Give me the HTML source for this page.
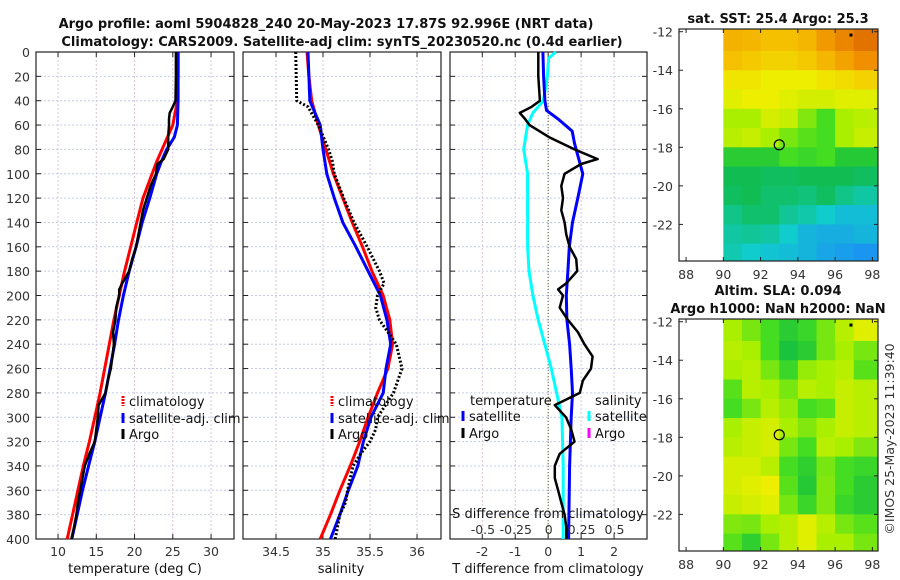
<!DOCTYPE html>
<html><head><meta charset="utf-8"><style>
html,body{margin:0;padding:0;background:#fff;}
svg{display:block;font-family:"DejaVu Sans","Liberation Sans",sans-serif;}
.tk{font-size:12.5px;fill:#333;}
.lg{font-size:13px;fill:#111;}
.ti{font-size:13px;font-weight:bold;fill:#111;}
</style></head><body>
<svg id="fig" width="900" height="580" viewBox="0 0 900 580" xmlns="http://www.w3.org/2000/svg">
<text class="ti" x="326" y="28" text-anchor="middle">Argo profile: aoml 5904828_240 20-May-2023 17.87S 92.996E (NRT data)</text>
<text class="ti" x="342" y="46" text-anchor="middle">Climatology: CARS2009. Satellite-adj clim: synTS_20230520.nc (0.4d earlier)</text>
<g id="p1"></g>
<g id="p2"></g>
<g id="p3"></g>
<g id="m1"></g>
<g id="m2"></g>
<text class="tk" transform="translate(894,439) rotate(-90)" text-anchor="middle">©IMOS 25-May-2023 11:39:40</text>
</svg>
<script>
// ---- data ----
const depthTicks = [0,20,40,60,80,100,120,140,160,180,200,220,240,260,280,300,320,340,360,380,400];
const tTicks = [10,15,20,25,30];
const sTicks = [34.5,35,35.5,36];
const sTickLabels = ["34.5","35","35.5","36"];
const dTTicks = [-2,-1,0,1,2];
const dSTicks = [-0.5,-0.25,0,0.25,0.5];
const dSTickLabels = ["-0.5","-0.25","0","0.25","0.5"];

const climZ = [0,20,40,60,70,80,90,100,120,140,160,180,200,220,240,260,280,300,320,340,360,380,400];
const climT = [25.7,25.7,25.6,25.0,24.3,23.6,22.9,22.3,21.1,20.3,19.5,18.7,18.0,17.3,16.7,16.1,15.5,14.8,14.1,13.3,12.6,11.9,11.2];
const satT  = [25.7,25.7,25.7,25.6,25.2,24.2,23.5,22.9,22.0,21.0,20.2,19.3,18.55,17.9,17.4,16.8,16.2,15.5,14.8,14.0,13.2,12.5,11.8];

const argoZ = [0,20,40,45,50,55,60,70,80,88,92,100,110,120,130,140,150,160,170,180,190,195,200,210,220,230,240,250,260,270,280,290,300,310,320,330,340,350,360,370,380,390,400];
const argoT = [25.4,25.4,25.35,25.0,24.6,24.5,24.5,24.4,24.4,23.8,23.0,22.8,22.1,21.6,21.1,20.8,20.5,20.2,19.7,19.3,18.4,18.0,18.0,17.6,17.5,17.2,17.3,17.1,16.9,16.5,16.2,15.3,15.2,15.0,14.8,14.1,13.5,13.2,12.9,12.6,12.4,12.1,11.75];
const argoDT = [-0.3,-0.3,-0.25,-0.5,-0.86,-0.7,-0.57,0.03,0.8,1.5,1.0,0.5,0.4,0.45,0.4,0.5,0.55,0.65,0.85,0.88,0.55,0.3,0.45,0.35,0.6,0.9,1.1,1.35,1.3,1.05,0.96,0.2,0.54,0.7,0.8,0.35,0.2,0.2,0.3,0.4,0.5,0.55,0.55];

const salZ = [0,20,40,60,80,100,120,140,160,180,200,220,240,260,280,300,320,340,360,380,400];
const climS = [34.83,34.85,34.88,34.95,35.03,35.11,35.21,35.31,35.42,35.52,35.64,35.71,35.74,35.69,35.58,35.48,35.39,35.29,35.18,35.08,34.97];
const satS  = [34.84,34.85,34.86,34.97,35.0,35.04,35.12,35.21,35.35,35.48,35.61,35.68,35.72,35.67,35.64,35.51,35.43,35.37,35.27,35.18,35.08];
const argoSZ = [0,40,45,60,80,90,100,120,140,160,180,190,200,210,220,240,260,280,300,310,320,330,340,360,370,380,400];
const argoS  = [34.71,34.72,34.84,34.95,35.06,35.1,35.12,35.22,35.33,35.47,35.6,35.65,35.58,35.56,35.6,35.78,35.84,35.75,35.58,35.56,35.5,35.4,35.32,35.26,35.24,35.18,35.13];

const satDTZ = [0,20,40,48,55,65,75,100,120,140,160,180,200,220,240,260,280,300,340,400];
const satDT  = [-0.16,-0.14,-0.1,-0.05,0.3,0.73,0.8,1.05,0.9,0.74,0.64,0.6,0.55,0.57,0.65,0.7,0.74,0.7,0.65,0.62];
const satDSZ = [0,5,20,40,50,60,80,100,140,160,180,200,220,240,260,280,300,340,400];
const satDS  = [0.055,0.0,-0.01,-0.04,-0.12,-0.16,-0.19,-0.16,-0.16,-0.16,-0.15,-0.12,-0.08,-0.03,0.02,0.06,0.1,0.11,0.11];

const mapLonTicks = [88,90,92,94,96,98];
const mapLatTicks = [-12,-14,-16,-18,-20,-22];
const sstGrid = [
[0.83,0.82,0.80,0.80,0.82,0.88,0.92,0.96],
[0.80,0.78,0.76,0.76,0.78,0.82,0.86,0.90],
[0.72,0.72,0.70,0.70,0.70,0.72,0.74,0.76],
[0.68,0.70,0.70,0.68,0.66,0.66,0.68,0.68],
[0.60,0.60,0.66,0.64,0.56,0.50,0.60,0.62],
[0.62,0.64,0.60,0.55,0.52,0.50,0.60,0.64],
[0.45,0.45,0.45,0.50,0.48,0.50,0.44,0.44],
[0.38,0.38,0.36,0.36,0.38,0.38,0.38,0.36],
[0.36,0.38,0.34,0.34,0.32,0.36,0.30,0.26],
[0.30,0.34,0.34,0.28,0.25,0.20,0.16,0.16],
[0.26,0.28,0.26,0.20,0.14,0.12,0.12,0.14],
[0.24,0.20,0.18,0.16,0.14,0.10,0.08,0.06]];
const slaGrid = [
[0.60,0.55,0.50,0.45,0.48,0.55,0.62,0.68],
[0.62,0.60,0.50,0.42,0.45,0.55,0.60,0.55],
[0.60,0.62,0.55,0.48,0.58,0.60,0.62,0.52],
[0.52,0.62,0.60,0.55,0.62,0.60,0.64,0.62],
[0.50,0.55,0.62,0.58,0.50,0.52,0.64,0.62],
[0.60,0.64,0.66,0.60,0.56,0.60,0.64,0.62],
[0.62,0.64,0.66,0.55,0.50,0.62,0.60,0.56],
[0.66,0.66,0.62,0.50,0.46,0.55,0.50,0.48],
[0.66,0.68,0.70,0.52,0.44,0.56,0.50,0.45],
[0.64,0.66,0.68,0.55,0.48,0.56,0.48,0.45],
[0.56,0.55,0.60,0.62,0.68,0.62,0.55,0.52],
[0.52,0.46,0.55,0.62,0.68,0.60,0.60,0.55]];
const argoLon = 93.0, argoLat = -17.87;
const floatLon = 96.85, floatLat = -12.2;

// ---- helpers ----
const NS = "http://www.w3.org/2000/svg";
function mk(parent, tag, attrs){const e=document.createElementNS(NS,tag);for(const k in attrs)e.setAttribute(k,attrs[k]);parent.appendChild(e);return e;}
const TOP=52, BOT=539;
const yD = d => TOP + (BOT-TOP)*d/400;

function panel(g, x0, x1, dmin, dmax, xticks, xlabels, name){
  const sx = v => x0 + (x1-x0)*(v-dmin)/(dmax-dmin);
  const grid = mk(g,'g',{});
  
  
  xticks.forEach(v=>mk(grid,'line',{x1:sx(v),x2:sx(v),y1:TOP,y2:BOT,stroke:'#d8c4d8','stroke-width':1,'stroke-dasharray':'2,2'}));
  depthTicks.forEach(d=>{ if(d>0&&d<400) mk(grid,'line',{x1:x0,x2:x1,y1:yD(d),y2:yD(d),stroke:'#c4cbef','stroke-width':1,'stroke-dasharray':'2,2'});});
  depthTicks.forEach(d=>{mk(grid,'line',{x1:x0,x2:x0+5,y1:yD(d),y2:yD(d),stroke:'#222'});mk(grid,'line',{x1:x1-5,x2:x1,y1:yD(d),y2:yD(d),stroke:'#222'});});
  xticks.forEach(v=>{mk(grid,'line',{x1:sx(v),x2:sx(v),y1:BOT,y2:BOT-5,stroke:'#222'});mk(grid,'line',{x1:sx(v),x2:sx(v),y1:TOP,y2:TOP+5,stroke:'#222'});});
  if(xlabels){ xticks.forEach((v,i)=>{const t=mk(g,'text',{x:sx(v),y:556,class:'tk','text-anchor':'middle'});t.textContent=xlabels[i];
    
    });}
  const fr = mk(g,'rect',{x:x0,y:TOP,width:x1-x0,height:BOT-TOP,fill:'none',stroke:'#222','stroke-width':1.2});
  
  
  return sx;
}
function line(g, sx, xs, zs, color, w, dash, name){
  const pts = xs.map((v,i)=>sx(v).toFixed(1)+','+yD(zs[i]).toFixed(1)).join(' ');
  const p = mk(g,'polyline',{points:pts,fill:'none',stroke:color,'stroke-width':w,'stroke-linejoin':'round'});
  if(dash) p.setAttribute('stroke-dasharray',dash);
  
  
}
function legend(g, x, y, color, label, name, dash){
  const m = mk(g,'line',{x1:x,x2:x,y1:y-10,y2:y,stroke:color,'stroke-width':3});
  if(dash) m.setAttribute('stroke-dasharray',dash);
  const t = mk(g,'text',{x:x+6,y:y,class:'lg'}); t.textContent=label;
  
  
}

// ---- panel 1 ----
const g1=document.getElementById('p1');
const sx1 = panel(g1,36,234,7.12,33.0,tTicks,tTicks.map(String),'temperature');
depthTicks.forEach(d=>{const t=mk(g1,'text',{x:30,y:yD(d)+5,class:'tk','text-anchor':'end'});t.textContent=d;
  
  });
line(g1,sx1,climT,climZ,'#ff0000',3,null,'climatology-temperature-line');
line(g1,sx1,satT,climZ,'#0000ff',3,null,'satellite-temperature-line');
line(g1,sx1,argoT,argoZ,'#000',2.5,null,'argo-temperature-line');
legend(g1,123,406,'#ff0000','climatology','legend-climatology',"2,1");
legend(g1,123,423,'#0000ff','satellite-adj. clim','legend-satellite-adj');
legend(g1,123,439,'#000','Argo','legend-argo');
const xl1=mk(g1,'text',{x:135,y:573,class:'lg','text-anchor':'middle'});xl1.textContent='temperature (deg C)';



// ---- panel 2 ----
const g2=document.getElementById('p2');
const sx2 = panel(g2,243,441,34.149,36.255,sTicks,sTickLabels,'salinity');
line(g2,sx2,climS,salZ,'#ff0000',3,null,'climatology-salinity-line');
line(g2,sx2,satS,salZ,'#0000ff',3,null,'satellite-salinity-line');
line(g2,sx2,argoS,argoSZ,'#000',3,'2,2','argo-salinity-line');
legend(g2,332,406,'#ff0000','climatology','legend-climatology-sal',"2,1");
legend(g2,332,423,'#0000ff','satellite-adj. clim','legend-satellite-adj-sal');
legend(g2,332,439,'#000','Argo','legend-argo-sal');
const xl2=mk(g2,'text',{x:341,y:573,class:'lg','text-anchor':'middle'});xl2.textContent='salinity';



// ---- panel 3 ----
const g3=document.getElementById('p3');
const sx3 = panel(g3,450,647,-2.98,3.0,dTTicks,dTTicks.map(String),'difference');
const sxS = v => 548.7 + v*131.6;
mk(g3,'line',{x1:sx3(0),x2:sx3(0),y1:TOP,y2:BOT,stroke:'#556b2f','stroke-width':1,'stroke-dasharray':'1,2'});
line(g3,sxS,satDS,satDSZ,'#00ffff',3,null,'satellite-salinity-diff-line');
line(g3,sx3,satDT,satDTZ,'#0000ff',3,null,'satellite-temperature-diff-line');
line(g3,sx3,argoDT,argoZ,'#000',2.5,null,'argo-temperature-diff-line');
const lt=mk(g3,'text',{x:470,y:405,class:'lg'});lt.textContent='temperature';


const ls=mk(g3,'text',{x:595,y:405,class:'lg'});ls.textContent='salinity';


legend(g3,463,421,'#0000ff','satellite','legend-temp-satellite');
legend(g3,463,438,'#000','Argo','legend-temp-argo');
legend(g3,589,421,'#00ffff','satellite','legend-sal-satellite');
legend(g3,589,438,'#ff00ff','Argo','legend-sal-argo');
const sdt=mk(g3,'text',{x:548,y:518,class:'lg','text-anchor':'middle'});sdt.textContent='S difference from climatology';


dSTicks.forEach((v,i)=>{const t=mk(g3,'text',{x:sxS(v),y:534,class:'tk','text-anchor':'middle'});t.textContent=dSTickLabels[i];
  
  });
const tdt=mk(g3,'text',{x:548,y:573,class:'lg','text-anchor':'middle'});tdt.textContent='T difference from climatology';



// ---- maps ----
const cmapStops=[[0,[31,127,255]],[0.2,[17,204,204]],[0.4,[17,187,68]],[0.5,[68,221,34]],[0.6,[170,238,0]],[0.7,[238,238,0]],[0.8,[245,192,0]],[0.9,[240,144,0]],[1,[216,96,0]]];
function cmap(v){for(let i=1;i<cmapStops.length;i++){if(v<=cmapStops[i][0]){const a=cmapStops[i-1],b=cmapStops[i];const f=(v-a[0])/(b[0]-a[0]);const c=a[1].map((x,j)=>Math.round(x+(b[1][j]-x)*f));return `rgb(${c[0]},${c[1]},${c[2]})`;}}return 'rgb(216,96,0)';}
function drawMap(g, top, grid, t1, t2, name){
  const L=679,R=878,B=top+232;
  const mx = lon => L + (lon-87.62)*18.63;
  const my = lat => top + (-11.86-lat)*19.27;
  grid.forEach((row,r)=>row.forEach((v,c)=>{
    const x0=mx(90+c), x1 = c===row.length-1 ? R : mx(91+c);
    const y0=my(-12-r)-( r===0?3:0 ), y1 = r===grid.length-1 ? B : my(-13-r);
    const cell=mk(g,'rect',{x:x0,y:Math.max(top,y0),width:x1-x0+0.5,height:y1-Math.max(top,y0)+0.5,fill:cmap(v)});
    
    
  }));
  mk(g,'rect',{x:L,y:top,width:R-L,height:B-top,fill:'none',stroke:'#222','stroke-width':1.2});
  mapLonTicks.forEach(v=>{mk(g,'line',{x1:mx(v),x2:mx(v),y1:B,y2:B-4,stroke:'#222'});mk(g,'line',{x1:mx(v),x2:mx(v),y1:top,y2:top+4,stroke:'#222'});
    const t=mk(g,'text',{x:mx(v),y:B+18,class:'tk','text-anchor':'middle'});t.textContent=v;
    
    });
  mapLatTicks.forEach(v=>{mk(g,'line',{x1:L,x2:L+4,y1:my(v),y2:my(v),stroke:'#222'});mk(g,'line',{x1:R-4,x2:R,y1:my(v),y2:my(v),stroke:'#222'});
    const t=mk(g,'text',{x:L-6,y:my(v)+5,class:'tk','text-anchor':'end'});t.textContent=v;
    
    });
  const c=mk(g,'circle',{cx:mx(argoLon),cy:my(argoLat),r:5,fill:'none',stroke:'#000','stroke-width':1.2});
  
  
  mk(g,'rect',{x:mx(floatLon)-1.5,y:my(floatLat)-2,width:3,height:3,fill:'#000'});
  const a=mk(g,'text',{x:778,y:t2?top-24:top-6,class:'ti','text-anchor':'middle'});a.textContent=t1;
  
  
  if(t2){const b=mk(g,'text',{x:778,y:top-6,class:'ti','text-anchor':'middle'});b.textContent=t2;
    
    }
}
drawMap(document.getElementById('m1'),29,sstGrid,'sat. SST: 25.4 Argo: 25.3',null,'sst-map');
drawMap(document.getElementById('m2'),319,slaGrid,'Altim. SLA: 0.094','Argo h1000: NaN h2000: NaN','sla-map');
</script>
</body></html>
